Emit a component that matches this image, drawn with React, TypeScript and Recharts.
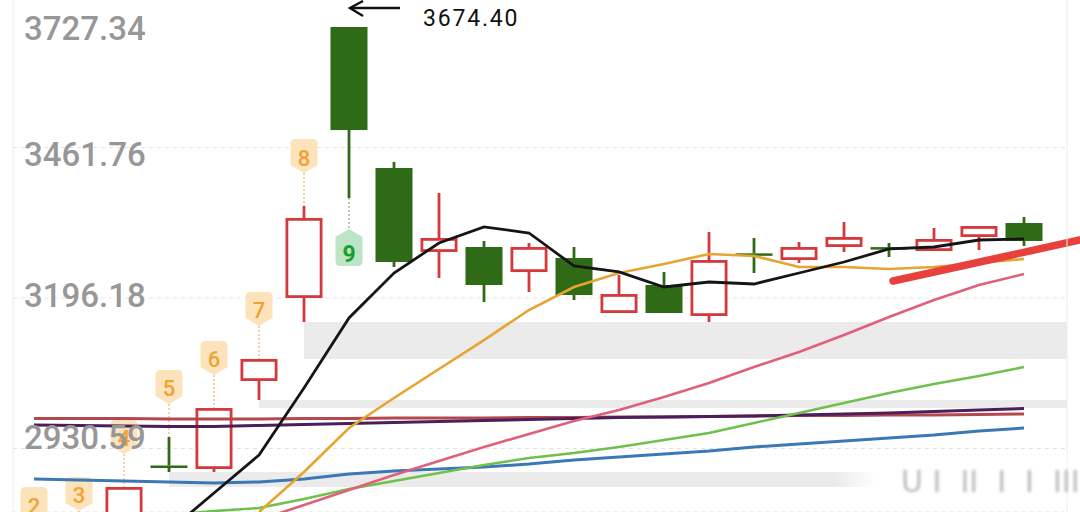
import React from 'react';
import {
  ComposedChart, Bar, Line, XAxis, YAxis, CartesianGrid,
  ReferenceArea, ReferenceLine, ReferenceDot,
} from 'recharts';

// daily K-line (index 0 = leftmost bar, mostly below the view)
const opens = [2725.0, 2745.0, 2790.0, 2900.6, 2894.4, 3049.7, 3196.2, 3674.4, 3425.6, 3277.4, 3286.2, 3242.0, 3266.8, 3169.7, 3219.1, 3164.4, 3275.0, 3263.2, 3286.2, 3286.0, 3279.1, 3303.8, 3328.5];
const highs = [2744.4, 2762.1, 2862.7, 2950.9, 3002.1, 3088.6, 3358.5, 3674.4, 3436.2, 3381.5, 3296.8, 3293.2, 3286.2, 3236.8, 3242.0, 3312.6, 3302.1, 3295.0, 3330.3, 3293.2, 3319.7, 3323.2, 3339.1];
const lows = [2712.0, 2735.0, 2781.0, 2889.1, 2889.1, 3016.2, 3153.8, 3372.6, 3250.9, 3231.5, 3189.1, 3206.8, 3192.7, 3169.7, 3169.7, 3153.8, 3240.3, 3258.0, 3277.4, 3268.5, 3279.1, 3280.9, 3287.9];
const closes = [2740.0, 2758.0, 2862.7, 2898.8, 3002.1, 3088.6, 3337.4, 3492.6, 3259.7, 3302.1, 3219.1, 3286.2, 3201.5, 3203.2, 3169.7, 3263.2, 3272.6, 3286.2, 3303.8, 3282.8, 3300.3, 3323.2, 3296.8];
// TD sequential count shown above / below the bars
const tdCount = [2, 3, 4, 5, 6, 7, 8, 9, null, null, null, null, null, null, null, null, null, null, null, null, null, null, null];

// moving averages
const ma5 = [null, null, null, 2785.0, 2852.1, 2919.1, 3037.4, 3160.9, 3240.3, 3293.2, 3321.5, 3310.9, 3252.7, 3242.1, 3215.6, 3224.4, 3220.9, 3240.3, 3259.7, 3282.7, 3286.2, 3298.5, 3300.3];
const ma10 = [null, null, null, null, null, 2818.5, 2889.1, 2966.8, 3019.7, 3070.9, 3122.0, 3175.0, 3215.6, 3240.3, 3256.2, 3273.8, 3270.3, 3250.9, 3250.9, 3247.4, 3250.9, 3258.0, 3265.0];
const ma20 = [null, null, null, null, 2777.9, 2804.4, 2830.9, 2857.4, 2883.8, 2908.6, 2933.3, 2956.2, 2979.1, 2998.5, 3021.5, 3046.2, 3074.4, 3100.9, 3130.9, 3162.7, 3192.7, 3219.1, 3238.5];
const ma30 = [null, null, null, 2813.2, 2820.3, 2825.6, 2841.4, 2859.1, 2873.2, 2887.4, 2901.5, 2913.8, 2922.7, 2933.3, 2945.6, 2958.0, 2975.6, 2993.3, 3010.9, 3028.6, 3044.4, 3058.6, 3074.4];
const ma60 = [2876.8, 2875.0, 2873.2, 2871.5, 2869.7, 2871.5, 2876.8, 2885.6, 2890.9, 2894.4, 2897.9, 2903.2, 2910.3, 2915.6, 2920.9, 2926.2, 2933.3, 2938.5, 2943.8, 2949.1, 2954.4, 2961.5, 2966.8];
const ma120 = [2972.1, 2971.2, 2970.3, 2969.4, 2969.4, 2971.2, 2973.0, 2974.7, 2976.5, 2978.3, 2980.0, 2981.8, 2983.5, 2985.3, 2986.2, 2987.1, 2988.0, 2989.7, 2991.5, 2993.3, 2995.9, 2998.5, 3001.2];
const ma250 = [2983.5, 2983.5, 2983.5, 2982.7, 2982.7, 2982.7, 2983.5, 2983.5, 2984.4, 2984.4, 2984.4, 2985.3, 2985.3, 2986.2, 2986.2, 2987.1, 2988.0, 2988.8, 2988.8, 2989.7, 2989.7, 2990.6, 2991.5];

// hand-drawn trend line (bar index, price)
const trendLine = [{ x: 19.09, y: 3226.2 }, { x: 23.24, y: 3298.5 }];

const priceTicks = [3727.34, 3461.76, 3196.18, 2930.59];
const Y_DOMAIN = [2818.55, 3727.34];
const X_DOMAIN = [-0.4667, 22.9556];

const UP = '#d6393b';
const DOWN = '#2f6b16';

const rows = opens.map((o, i) => ({
  i,
  open: o,
  high: highs[i],
  low: lows[i],
  close: closes[i],
  td: tdCount[i],
  ma5: ma5[i],
  ma10: ma10[i],
  ma20: ma20[i],
  ma30: ma30[i],
  ma60: ma60[i],
  ma120: ma120[i],
  ma250: ma250[i],
}));

// unfilled price gaps -> grey bands
const gaps: { start: number; from: number; to: number }[] = [];
for (let i = 1; i < rows.length; i++) {
  const bottom = highs[i - 1];
  const top = Math.min(...lows.slice(i));
  if (lows[i] > bottom && top > bottom) gaps.push({ start: i, from: bottom, to: top });
}

// label offsets of the app's price scale (the text does not sit on the grid line)
const TICK_DY: Record<string, number> = { '3727.34': 31, '3461.76': 6.5, '3196.18': -3, '2930.59': -11.5 };

function PriceTick(props: any) {
  const { y, payload } = props;
  const label = Number(payload.value).toFixed(2);
  return (
    <text x={24} y={y + (TICK_DY[label] ?? 0)} dominantBaseline="central" textAnchor="start"
      fill="#979797" fontSize={33} fontWeight={500} fontFamily="Roboto, sans-serif">
      {label}
    </text>
  );
}

function TdBadge({ cx, hy, ly, n }: { cx: number; hy: number; ly: number; n: number }) {
  const w = 13.5;
  if (n === 9) {
    const tip = ly + 31, sh = ly + 39, bot = ly + 68;
    const d = `M${cx},${tip} L${cx + w},${sh} L${cx + w},${bot - 5} Q${cx + w},${bot} ${cx + w - 5},${bot} L${cx - w + 5},${bot} Q${cx - w},${bot} ${cx - w},${bot - 5} L${cx - w},${sh} Z`;
    return (
      <g>
        <line x1={cx} y1={ly} x2={cx} y2={tip} stroke="#6d9a5c" strokeWidth={1} strokeDasharray="2 2" />
        <path d={d} fill="#bde4c4" />
        <text x={cx} y={ly + 56} textAnchor="middle" dominantBaseline="central" fill="#16a02e"
          fontSize={23} fontWeight={700} fontFamily="Roboto, sans-serif">{n}</text>
      </g>
    );
  }
  const top = hy - 67, tip = hy - 33, se = hy - 41;
  const d = `M${cx - w},${top + 5} Q${cx - w},${top} ${cx - w + 5},${top} L${cx + w - 5},${top} Q${cx + w},${top} ${cx + w},${top + 5} L${cx + w},${se} L${cx},${tip} L${cx - w},${se} Z`;
  return (
    <g>
      <line x1={cx} y1={tip} x2={cx} y2={hy} stroke="#e8a64a" strokeWidth={1} strokeDasharray="2 2" />
      <path d={d} fill="#fde3bb" />
      <text x={cx} y={hy - 48} textAnchor="middle" dominantBaseline="central" fill="#f0a232"
        fontSize={22} fontWeight={500} fontFamily="Roboto, sans-serif">{n}</text>
    </g>
  );
}

function Candle(props: any) {
  const { x, y, width, height, payload } = props;
  if (!payload || height == null) return null;
  const { open, high, low, close, td } = payload;
  const k = height / (high - low || 1);
  const py = (v: number) => y + (high - v) * k;
  const cx = x + width / 2;
  const up = close > open;
  const col = up ? UP : DOWN;
  const bt = py(Math.max(open, close));
  let bb = py(Math.min(open, close));
  if (bb - bt < 2.5) bb = bt + 2.5;
  const yl = y + height;
  return (
    <g>
      {bt > y && <line x1={cx} y1={y} x2={cx} y2={bt} stroke={col} strokeWidth={2.8} />}
      {yl > bb && <line x1={cx} y1={bb} x2={cx} y2={yl} stroke={col} strokeWidth={2.8} />}
      {up ? (
        <rect x={x + 1.4} y={bt + 1.4} width={width - 2.8} height={Math.max(bb - bt - 2.8, 0.5)}
          fill="#fff" stroke={col} strokeWidth={2.8} />
      ) : (
        <rect x={x} y={bt} width={width} height={bb - bt} fill={col} />
      )}
      {td != null && <TdBadge cx={cx} hy={y} ly={yl} n={td} />}
    </g>
  );
}

function HighNote(props: any) {
  const { cx, cy } = props;
  const ay = cy - 19;
  return (
    <g>
      <line x1={cx + 1} y1={ay} x2={cx + 51} y2={ay} stroke="#111" strokeWidth={2.4} />
      <polyline points={`${cx + 14},${ay - 7} ${cx + 1},${ay} ${cx + 14},${ay + 8}`}
        fill="none" stroke="#111" strokeWidth={2.4} />
      <text x={cx + 74} y={cy - 9} dominantBaseline="central" fill="#111" fontSize={23}
        letterSpacing={1.8} fontFamily="Roboto, sans-serif">{highs[7].toFixed(2)}</text>
    </g>
  );
}

export default function App() {
  return (
    <div style={{ position: 'absolute', left: 0, top: 0, width: 1080, height: 512, overflow: 'hidden', background: '#fff' }}>
      <div style={{ position: 'absolute', left: 0, top: -3 }}>
        <ComposedChart width={1080} height={515} data={rows} margin={{ top: 0, right: 0, bottom: 0, left: 0 }}>
          <CartesianGrid vertical={false} stroke="#e3e3e3" strokeDasharray="4 4" />
          <XAxis dataKey="i" type="number" domain={X_DOMAIN} allowDataOverflow hide
            ticks={rows.map((r) => r.i)} />
          <YAxis domain={Y_DOMAIN} allowDataOverflow ticks={priceTicks} interval={0} width={13}
            axisLine={{ stroke: '#ececec' }} tickLine={false} tick={<PriceTick />} />
          <YAxis yAxisId="r" orientation="right" domain={Y_DOMAIN} allowDataOverflow width={13}
            axisLine={{ stroke: '#ececec' }} tickLine={false} tick={false} />
          {gaps.map((g) => (
            <ReferenceArea key={g.start} x1={g.start} y1={g.from} y2={g.to}
              fill="#ebebeb" fillOpacity={1} stroke="none" ifOverflow="hidden" />
          ))}
          <Bar dataKey={(d: any) => [d.low, d.high]} barSize={37} shape={<Candle />} isAnimationActive={false} />
          <Line dataKey="ma60" stroke="#3b79b6" strokeWidth={3} dot={false} isAnimationActive={false} />
          <Line dataKey="ma250" stroke="#b4484e" strokeWidth={3} dot={false} isAnimationActive={false} />
          <Line dataKey="ma120" stroke="#4a1f5c" strokeWidth={3} dot={false} isAnimationActive={false} />
          <Line dataKey="ma30" stroke="#6fc04c" strokeWidth={2.6} dot={false} isAnimationActive={false} />
          <Line dataKey="ma20" stroke="#e0607c" strokeWidth={2.6} dot={false} isAnimationActive={false} />
          <Line dataKey="ma10" stroke="#e5a52e" strokeWidth={2.6} dot={false} isAnimationActive={false} />
          <Line dataKey="ma5" stroke="#151515" strokeWidth={2.8} dot={false} isAnimationActive={false} />
          <ReferenceLine segment={trendLine} stroke="#e8403c" strokeWidth={7.5} strokeLinecap="round"
            ifOverflow="visible" />
          <ReferenceDot x={7} y={highs[7]} ifOverflow="visible" shape={<HighNote />} />
        </ComposedChart>
      </div>
      {/* blurred watermark strip at the bottom right */}
      <div style={{
        position: 'absolute', left: 835, top: 462, width: 232, height: 40,
        background: 'linear-gradient(to right, rgba(255,255,255,0), #fff 40px)',
      }}>
        <span style={{
          position: 'absolute', left: 66, top: 3, fontFamily: 'DejaVu Sans', fontSize: 30,
          color: 'rgba(70,70,70,0.38)', filter: 'blur(1.8px)', whiteSpace: 'pre', lineHeight: '34px',
        }}>U I  II  I  I  III</span>
      </div>
    </div>
  );
}
